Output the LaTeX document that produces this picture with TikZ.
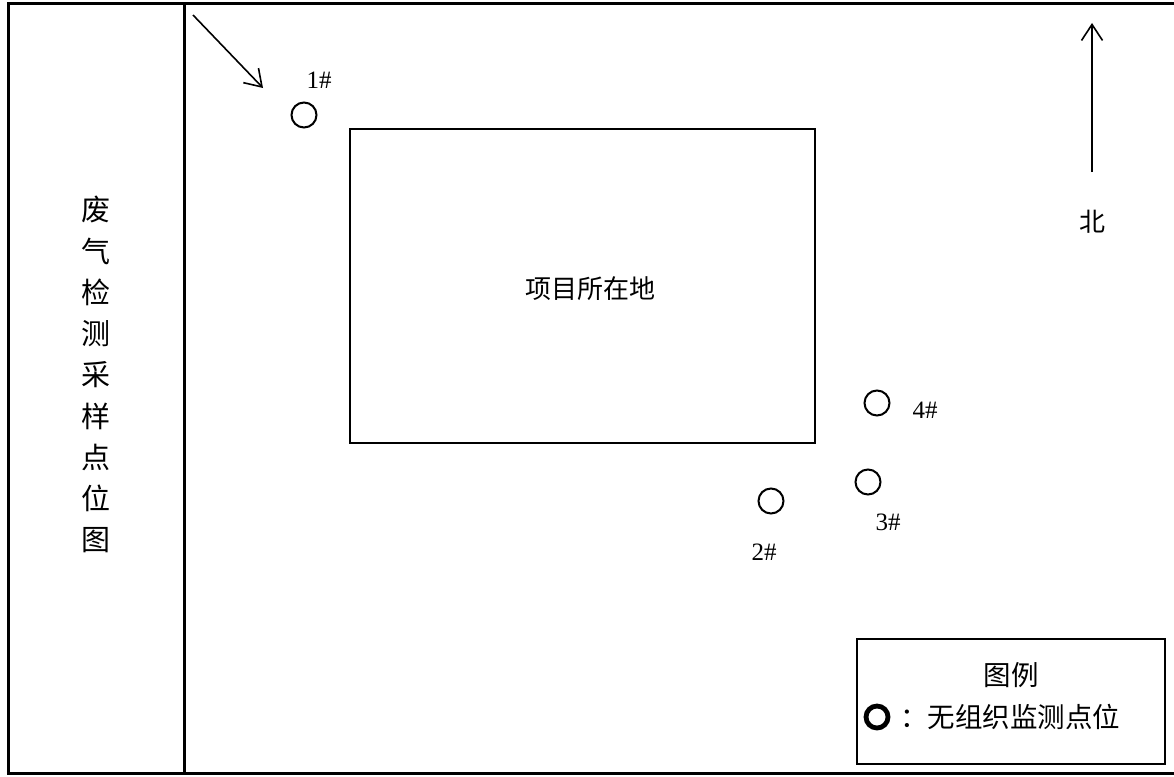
\documentclass[tikz,border=0pt]{standalone}
\usepackage{fontspec}
\setmainfont{Liberation Serif}
\newfontfamily\cjk{Noto Sans CJK SC}
\usetikzlibrary{arrows.meta}
\begin{document}
\begin{tikzpicture}[x=1pt,y=-1pt,
  frameline/.style={line width=3pt},
  sitebox/.style={draw,line width=2pt,minimum width=465pt,minimum height=314pt,inner sep=0pt},
  spot/.style={draw,circle,line width=2pt,minimum size=25pt,inner sep=0pt},
  spotlabel/.style={font=\fontsize{25}{27}\selectfont,inner sep=0pt},
  cjktext/.style={font=\cjk\fontsize{26}{28}\selectfont,inner sep=0pt},
  legtextstyle/.style={font=\cjk\fontsize{27.5}{29}\selectfont,inner sep=0pt},
  vchar/.style={font=\cjk\fontsize{29}{30}\selectfont,inner sep=0pt},
  pointer/.style={line width=1.6pt,-{Straight Barb[length=16pt,width=21pt,line width=1.6pt]}}]
\useasboundingbox (0,0) rectangle (1174,776);
\fill[white] (0,0) rectangle (1174,776);
% frame
\coordinate (tl) at (8,4);
\coordinate (tr) at (1174,4);
\coordinate (bl) at (8,773);
\coordinate (br) at (1174,773);
\coordinate (dt) at (184,4);
\coordinate (db) at (184,773);
\draw[frameline] (tr) -- (tl) -- (bl) -- (br);
\draw[frameline] (dt) -- (db);
% vertical title
\foreach \c [count=\i from 0] in {废,气,检,测,采,样,点,位,图}
  \node[vchar] (v\i) at (96,210+41.25*\i) {\c};
% site
\node[sitebox] (site) at (582.5,286) {};
\node[cjktext] (sitetext) at (590,289) {项目所在地};
% wind arrow
\coordinate (wa) at (193,15);
\coordinate (wb) at (263,88);
\draw[pointer] (wa) -- (wb);
% north arrow
\coordinate (na) at (1092,172);
\coordinate (nb) at (1092,23);
\draw[pointer] (na) -- (nb);
\node[cjktext] (north) at (1092,222) {北};
% sampling points
\node[spot] (p1) at (304,115) {};
\node[spotlabel] (l1) at (319,80) {1\#};
\node[spot] (p2) at (771,501) {};
\node[spotlabel] (l2) at (764,552) {2\#};
\node[spot] (p3) at (868,482) {};
\node[spotlabel] (l3) at (888,522) {3\#};
\node[spot] (p4) at (877,403) {};
\node[spotlabel] (l4) at (925,410) {4\#};
% legend
\node[draw,line width=1.6pt,minimum width=308pt,minimum height=125pt,inner sep=0pt] (legend) at (1011,701.5) {};
\node[legtextstyle] (legtitle) at (1011,675) {图例};
\node[draw,circle,line width=4.8pt,minimum size=22pt,inner sep=0pt] (legspot) at (877,717) {};
\node[legtextstyle,anchor=west] (legtext) at (900,717) {：无组织监测点位};
\end{tikzpicture}
\end{document}
